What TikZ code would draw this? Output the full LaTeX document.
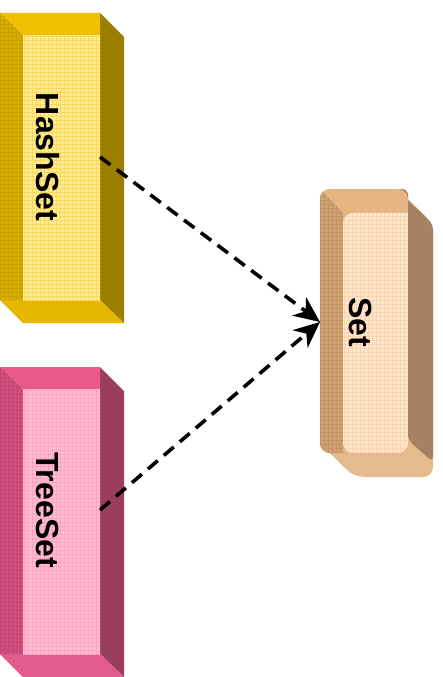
\documentclass[tikz,border=0pt]{standalone}
\usepackage{fontspec}
\setmainfont{Liberation Sans}
\usetikzlibrary{arrows.meta}
\definecolor{hTop}{HTML}{F0C100}
\definecolor{hLeft}{HTML}{D9AD00}
\definecolor{hLeftG}{HTML}{C9A200}
\definecolor{hIn}{HTML}{FFEB96}
\definecolor{hInG}{HTML}{F8D95E}
\definecolor{hRight}{HTML}{9C7E00}
\definecolor{hBot}{HTML}{E6B700}
\definecolor{tTop}{HTML}{E9588A}
\definecolor{tLeft}{HTML}{D24E7E}
\definecolor{tLeftG}{HTML}{C34874}
\definecolor{tIn}{HTML}{FFBCD4}
\definecolor{tInG}{HTML}{F9A2C2}
\definecolor{tRight}{HTML}{9A3D5F}
\definecolor{tBot}{HTML}{E35A8C}
\definecolor{sTop}{HTML}{E6B584}
\definecolor{sLeft}{HTML}{D0A171}
\definecolor{sLeftG}{HTML}{C39466}
\definecolor{sIn}{HTML}{FFE6CE}
\definecolor{sInG}{HTML}{FAD4AE}
\definecolor{sRight}{HTML}{A58161}
\definecolor{sBot}{HTML}{E4BB8C}
\tikzset{
  label/.style={font=\bfseries\fontsize{32}{38}\selectfont, rotate=-90, inner sep=0pt},
  gridline/.style={line width=0.5pt},
  dep/.style={line width=3.6pt, dash pattern=on 13pt off 8pt, -{Stealth[length=26pt,width=23pt,inset=8pt]}}
}
\begin{document}
\begin{tikzpicture}[x=1pt,y=-1pt]
\useasboundingbox (0,0) rectangle (442,677);
\fill[white] (0,0) rectangle (442,677);
% ---------- HashSet box ----------
\fill[hRight] (100,13)--(124,37)--(124,323)--(100,300)--cycle;
\fill[hBot] (0,300)--(100,300)--(124,323)--(23,323)--cycle;
\fill[hTop] (0,13)--(100,13)--(100,35)--(23,35)--cycle;
\begin{scope}
\clip (0,13)--(23,35)--(23,300)--(0,300)--cycle;
\fill[hLeft] (0,13) rectangle (23,300);
\draw[hLeftG,gridline,step=4pt] (0,300) grid (24,12);
\end{scope}
\begin{scope}
\clip (23,35) rectangle (100,300);
\fill[hIn] (23,35) rectangle (100,300);
\draw[hInG,gridline,step=4pt] (23,300) grid (100,35);
\end{scope}
\node[label] (hash) at (48,157) {HashSet};
\coordinate (hashR) at (100,157);
% ---------- TreeSet box ----------
\begin{scope}[shift={(0,354)}]
\fill[tRight] (100,13)--(124,37)--(124,323)--(100,300)--cycle;
\fill[tBot] (0,300)--(100,300)--(124,323)--(23,323)--cycle;
\fill[tTop] (0,13)--(100,13)--(100,35)--(23,35)--cycle;
\begin{scope}
\clip (0,13)--(23,35)--(23,300)--(0,300)--cycle;
\fill[tLeft] (0,13) rectangle (23,300);
\draw[tLeftG,gridline,step=4pt] (0,300) grid (24,12);
\end{scope}
\begin{scope}
\clip (23,35) rectangle (100,300);
\fill[tIn] (23,35) rectangle (100,300);
\draw[tInG,gridline,step=4pt] (23,300) grid (100,35);
\end{scope}
\node[label] (tree) at (48,156) {TreeSet};
\coordinate (treeR) at (100,156);
\end{scope}
% ---------- Set box ----------
\fill[sBot, rounded corners=10pt] (320,189)--(398,189)--(433,224)--(433,477)--(354,477)--(320,443)--cycle;
\fill[sRight, rounded corners=6pt] (396,189)--(433,224)--(433,462)--(408,440)--(408,189)--cycle;
\begin{scope}
\clip[rounded corners=10pt] (320,189) rectangle (408,453);
\fill[sTop] (320,189) rectangle (408,453);
\fill[sLeft] (320,189)--(343,213)--(343,453)--(320,453)--cycle;
\begin{scope}
\clip (320,189)--(343,213)--(343,453)--(320,453)--cycle;
\draw[sLeftG,gridline,step=4pt] (320,454) grid (344,188);
\end{scope}
\begin{scope}
\clip[rounded corners=10pt] (343,213) rectangle (420,453);
\fill[sIn] (343,213) rectangle (408,453);
\draw[sInG,gridline,step=4pt] (343,453) grid (408,213);
\end{scope}
\end{scope}
\node[label] (set) at (361,322) {Set};
\coordinate (setL) at (320,322);
% ---------- connectors ----------
\draw[dep] (hashR) -- (setL);
\draw[dep] (treeR) -- (setL);
\end{tikzpicture}
\end{document}
